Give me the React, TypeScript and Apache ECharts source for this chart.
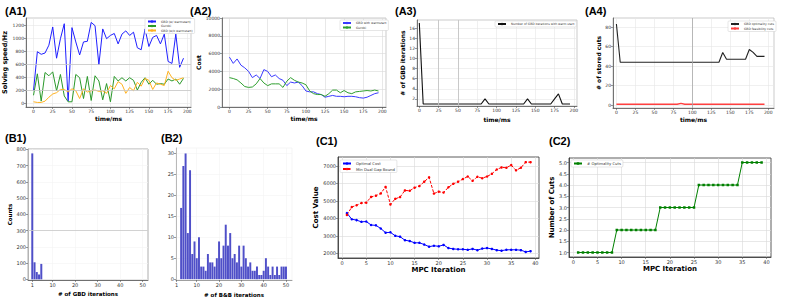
import React, { useEffect, useRef } from "react";
import * as echarts from "echarts";

// ---------- data ----------
const timeMs = [0, 5, 10, 15, 20, 25, 30, 35, 40, 45, 50, 55, 60, 65, 70, 75, 80, 85, 90, 95, 100, 105, 110, 115, 120, 125, 130, 135, 140, 145, 150, 155, 160, 165, 170, 175, 180, 185, 190, 195];
const timeTicks = [0, 25, 50, 75, 100, 125, 150, 175, 200];

// A1 solving speed (Hz)
const a1Warm = [200, 800, 760, 780, 900, 1180, 700, 1000, 1230, 40, 1170, 950, 750, 950, 960, 1250, 1200, 600, 1150, 1000, 1050, 1080, 920, 1070, 1120, 1050, 1100, 860, 830, 1150, 880, 1020, 1050, 920, 1070, 650, 620, 1070, 560, 700];
const a1Gurobi = [130, 460, 40, 480, 430, 490, 200, 450, 120, 30, 30, 450, 400, 80, 420, 50, 430, 350, 60, 310, 30, 420, 350, 400, 350, 400, 360, 210, 330, 400, 300, 360, 300, 310, 300, 380, 350, 380, 300, 390];
const a1Cold = [30, 20, 20, 40, 100, 150, 170, 220, 220, 180, 230, 200, 80, 230, 180, 200, 210, 190, 200, 160, 280, 230, 340, 300, 160, 250, 200, 330, 270, 390, 360, 220, 320, 300, 280, 500, 400, 360, 380, 400];
const a1Ticks = [0, 200, 400, 600, 800, 1000, 1200];

// A2 cost
const a2Warm = [5600, 4900, 5400, 4700, 4400, 4000, 3300, 3600, 3200, 4200, 4000, 3400, 3600, 3200, 3000, 2400, 2800, 2700, 2800, 2400, 1800, 1700, 1700, 1500, 1400, 1100, 1200, 1300, 1200, 1200, 1150, 1200, 1200, 1150, 1050, 1000, 1100, 1300, 1500, 1600];
const a2Gurobi = [3300, 3200, 3050, 2700, 2300, 2200, 2250, 2600, 3200, 2700, 2400, 2600, 2600, 2600, 2200, 2900, 3300, 3000, 2800, 2700, 2500, 1800, 1500, 1400, 1400, 1200, 1500, 1900, 1900, 1600, 1850, 1600, 1500, 1700, 1750, 1800, 1850, 1800, 1900, 1800];

// A3 GBD iterations
const a3Iter = [17, 1, 1, 1, 1, 1, 1, 1, 1, 1, 1, 1, 1, 1, 1, 1, 1, 2, 1, 1, 1, 1, 1, 1, 1, 1, 1, 1, 2, 1, 1, 1, 1, 1, 1, 2, 3, 1, 1, 1];
const a3Ticks = [2, 4, 6, 8, 10, 12, 14, 16];

// A4 stored cuts
const a4Opt = [83, 44, 44, 44, 44, 44, 44, 44, 44, 44, 44, 44, 44, 44, 44, 44, 44, 44, 44, 44, 44, 44, 44, 44, 44, 44, 44, 44, 54, 47, 47, 47, 47, 47, 47, 57, 54, 50, 50, 50];
const a4Feas = [1, 1, 1, 1, 1, 1, 1, 1, 1, 1, 1, 1, 1, 1, 1, 1, 1, 2, 1, 1, 1, 1, 1, 1, 1, 1, 1, 1, 1, 1, 1, 1, 1, 1, 1, 1, 1, 1, 1, 1];
const a4Ticks = [0, 20, 40, 60, 80];

// B1 histogram of GBD iterations
const gbdBins = [1, 2, 3, 4, 5];
const gbdCounts = [775, 105, 45, 30, 95];
const b1YTicks = [0, 100, 200, 300, 400, 500, 600, 700, 800];
const histXTicks = [1, 10, 20, 30, 40, 50];

// B2 histogram of B&B iterations
const bnbBins = [3, 4, 5, 6, 7, 8, 9, 10, 11, 12, 13, 14, 15, 16, 17, 18, 19, 20, 21, 22, 23, 24, 25, 26, 27, 28, 29, 30, 31, 32, 33, 34, 35, 36, 37, 38, 39, 40, 41, 42, 43, 44, 45, 46, 47, 48, 49, 50];
const bnbCounts = [17, 27, 30, 11, 26, 6, 9, 5, 10, 3, 3, 2, 6, 4, 4, 3, 5, 9, 5, 8, 13, 8, 11, 5, 6, 4, 8, 3, 8, 5, 3, 4, 2, 2, 3, 1, 1, 2, 5, 3, 1, 3, 1, 3, 1, 3, 3, 3];
const b2YTicks = [0, 5, 10, 15, 20, 25, 30];

// C1 / C2 MPC
const mpcIter = [1, 2, 3, 4, 5, 6, 7, 8, 9, 10, 11, 12, 13, 14, 15, 16, 17, 18, 19, 20, 21, 22, 23, 24, 25, 26, 27, 28, 29, 30, 31, 32, 33, 34, 35, 36, 37, 38, 39];
const optCost = [4300, 3950, 3900, 3800, 3820, 3620, 3600, 3420, 3180, 3200, 3000, 2950, 2750, 2700, 2600, 2600, 2500, 2380, 2430, 2400, 2480, 2300, 2250, 2230, 2230, 2200, 2250, 2180, 2270, 2300, 2250, 2180, 2150, 2200, 2200, 2200, 2180, 2080, 2120];
const dualBound = [4200, 4650, 4750, 4880, 4900, 5230, 5300, 5430, 5800, 4800, 5120, 5220, 5600, 5580, 5760, 5850, 6100, 6350, 5420, 5530, 5480, 5780, 5980, 6100, 6250, 6400, 6150, 6380, 6300, 6400, 6550, 6800, 6920, 6900, 7050, 6750, 6900, 7220, 7220];
const optCuts = [1, 1, 1, 1, 1, 1, 1, 1, 2, 2, 2, 2, 2, 2, 2, 2, 2, 3, 3, 3, 3, 3, 3, 3, 3, 4, 4, 4, 4, 4, 4, 4, 4, 4, 5, 5, 5, 5, 5];
const mpcTicks = [0, 5, 10, 15, 20, 25, 30, 35, 40];
const c1YTicks = [2000, 3000, 4000, 5000, 6000, 7000];
const c2YTicks = [1.0, 1.5, 2.0, 2.5, 3.0, 3.5, 4.0, 4.5, 5.0];

const panelLabels = ["(A1)", "(A2)", "(A3)", "(A4)", "(B1)", "(B2)", "(C1)", "(C2)"];

// ---------- helpers ----------
const FONT = '"DejaVu Sans", sans-serif';

type AxCfg = {
  grid: number;
  min: number;
  max: number;
  ticks?: number[];
  interval?: number;
  name?: string;
  nameGap?: number;
  nameSize?: number;
  labelSize?: number;
  lineColor?: string;
  splitColor?: string;
  fmt?: (v: number) => string;
};

function axis(c: AxCfg) {
  const a: any = {
    type: "value",
    gridIndex: c.grid,
    min: c.min,
    max: c.max,
    axisLine: { show: true, onZero: false, lineStyle: { color: c.lineColor || "#555", width: 0.8 } },
    axisTick: { show: true, length: 2, lineStyle: { color: "#555", width: 0.6 } },
    axisLabel: {
      fontSize: c.labelSize || 4.5,
      color: "#333",
      margin: 2,
      fontFamily: FONT,
      formatter: c.fmt || ((v: number) => String(v)),
    },
    splitLine: { show: true, lineStyle: { color: c.splitColor || "#e6e6e6", width: 0.6 } },
    name: c.name || "",
    nameLocation: "middle",
    nameGap: c.nameGap || 10,
    nameTextStyle: { fontWeight: "bold", fontSize: c.nameSize || 6, fontFamily: FONT, color: "#000" },
  };
  if (c.ticks) {
    a.axisTick.customValues = c.ticks;
    a.axisLabel.customValues = c.ticks;
  }
  if (c.interval) a.interval = c.interval;
  return a;
}

function pairs(xs: number[], ys: number[]) {
  return xs.map((x, i) => [x, ys[i]]);
}

function line(name: string, idx: number, xs: number[], ys: number[], color: string, width = 1, extra: any = {}) {
  return {
    type: "line",
    name,
    xAxisIndex: idx,
    yAxisIndex: idx,
    data: pairs(xs, ys),
    symbol: "none",
    lineStyle: { color, width },
    itemStyle: { color },
    ...extra,
  };
}

function vline(x: number, color: string) {
  return { silent: true, symbol: "none", label: { show: false }, lineStyle: { color, width: 0.8, type: "solid" }, data: [{ xAxis: x }] };
}

function legendBox(names: string[], left: number, top: number, fontSize: number, extra: any = {}) {
  return {
    data: names,
    left,
    top,
    orient: "vertical",
    itemWidth: 8,
    itemHeight: 3,
    itemGap: 1.5,
    padding: [1.5, 2, 1.5, 2],
    borderColor: "#ccc",
    borderWidth: 0.5,
    borderRadius: 1,
    backgroundColor: "#fff",
    textStyle: { fontSize, fontFamily: FONT, color: "#333", padding: [0, 0, 0, 0] },
    selectedMode: false,
    ...extra,
  };
}

export default function App() {
  const ref = useRef<HTMLDivElement>(null);

  useEffect(() => {
    const chart = echarts.init(ref.current!, null, { renderer: "svg" });

    const grids = [
      { left: 26, top: 18, width: 165, height: 89, show: true, borderColor: "#aaa", borderWidth: 0.6 }, // A1
      { left: 222, top: 18, width: 164, height: 89, show: true, borderColor: "#aaa", borderWidth: 0.6 }, // A2
      { left: 417, top: 20, width: 160, height: 86, show: true, borderColor: "#aaa", borderWidth: 0.6 }, // A3
      { left: 613, top: 18, width: 161, height: 90, show: true, borderColor: "#aaa", borderWidth: 0.6 }, // A4
      { left: 28, top: 149, width: 120, height: 131, show: true, borderColor: "#999", borderWidth: 0.8 }, // B1
      { left: 176, top: 148, width: 116, height: 132, show: true, borderColor: "#eee", borderWidth: 0.6 }, // B2
      { left: 338, top: 157, width: 201, height: 101, show: true, borderColor: "#333", borderWidth: 0.8 }, // C1
      { left: 569, top: 158, width: 202, height: 99, show: true, borderColor: "#333", borderWidth: 0.8 }, // C2
    ];

    const xAxes = [
      axis({ grid: 0, min: -9.75, max: 204.75, ticks: timeTicks, name: "time/ms", nameGap: 8 }),
      axis({ grid: 1, min: -9.75, max: 204.75, ticks: timeTicks, name: "time/ms", nameGap: 8, splitColor: "#d8d8d8" }),
      axis({ grid: 2, min: -3, max: 204, ticks: timeTicks, name: "time/ms", nameGap: 10 }),
      axis({ grid: 3, min: -4.5, max: 207.5, ticks: timeTicks, name: "time/ms", nameGap: 8.5 }),
      axis({ grid: 4, min: -0.9, max: 52.35, ticks: histXTicks, name: "# of GBD iterations", nameGap: 11, nameSize: 5.5, labelSize: 5, splitColor: "#f4f4f4" }),
      axis({ grid: 5, min: 0.7, max: 52.7, ticks: histXTicks, name: "# of B&B iterations", nameGap: 11.5, nameSize: 5.5, labelSize: 5, splitColor: "#f4f4f4", lineColor: "#888" }),
      axis({ grid: 6, min: -0.85, max: 40.75, ticks: mpcTicks, name: "MPC Iteration", nameGap: 8, nameSize: 7, labelSize: 5, splitColor: "#d9d9d9", lineColor: "#333" }),
      axis({ grid: 7, min: -0.9, max: 40.95, ticks: mpcTicks, name: "MPC Iteration", nameGap: 8.5, nameSize: 7, labelSize: 5, splitColor: "#d9d9d9", lineColor: "#333" }),
    ];

    const yAxes = [
      axis({ grid: 0, min: -50, max: 1318, ticks: a1Ticks, name: "Solving speed/Hz", nameGap: 14, nameSize: 6.5 }),
      axis({ grid: 1, min: 0, max: 10000, interval: 2000, name: "Cost", nameGap: 16, splitColor: "#d8d8d8" }),
      axis({ grid: 2, min: 0.6, max: 17.6, ticks: a3Ticks, name: "# of GBD iterations", nameGap: 11 }),
      axis({ grid: 3, min: -2.8, max: 89.2, ticks: a4Ticks, name: "# of stored cuts", nameGap: 11 }),
      axis({ grid: 4, min: -4, max: 802, ticks: b1YTicks, name: "Counts", nameGap: 14, nameSize: 5.5, labelSize: 5, splitColor: "#f4f4f4", lineColor: "#aaa" }),
      axis({ grid: 5, min: -0.2, max: 31.3, ticks: b2YTicks, labelSize: 5, splitColor: "#f4f4f4", lineColor: "#aaa" }),
      axis({ grid: 6, min: 1730, max: 7515, ticks: c1YTicks, name: "Cost Value", nameGap: 15, nameSize: 7, labelSize: 5, splitColor: "#d9d9d9", lineColor: "#333" }),
      axis({ grid: 7, min: 0.8, max: 5.2, ticks: c2YTicks, name: "Number of Cuts", nameGap: 11, nameSize: 7, labelSize: 5, splitColor: "#d9d9d9", lineColor: "#333", fmt: (v: number) => v.toFixed(1) }),
    ];

    const series: any[] = [
      // A1
      line("GBD (w/ warmstart)", 0, timeMs, a1Warm, "#1f1fff", 1, {
        markLine: { silent: true, symbol: "none", label: { show: false }, lineStyle: { color: "#c8c8c8", width: 0.8, type: "solid" }, data: [{ yAxis: 200 }, { yAxis: 600 }] },
      }),
      line("Gurobi", 0, timeMs, a1Gurobi, "#2a992a", 1),
      line("GBD (w/o warmstart)", 0, timeMs, a1Cold, "#ffb21f", 1),
      // A2
      line("GBD with warmstart", 1, timeMs, a2Warm, "#3a3aff", 1),
      line("Gurobi ", 1, timeMs, a2Gurobi, "#2f9f2f", 1),
      // A3
      line("Number of GBD iterations with warm start", 2, timeMs, a3Iter, "#111", 1.1, {
        markLine: { silent: true, symbol: "none", label: { show: false }, lineStyle: { color: "#c4c4c4", width: 0.9, type: "solid" }, data: [{ xAxis: 25 }, { xAxis: 50 }] },
      }),
      // A4
      line("GBD optimality cuts", 3, timeMs, a4Opt, "#222", 1.1, { markLine: vline(100, "#a8a8a8") }),
      line("GBD feasibility cuts", 3, timeMs, a4Feas, "#ff4040", 1.4),
      // B1
      {
        type: "bar",
        name: "B1",
        xAxisIndex: 4,
        yAxisIndex: 4,
        data: pairs(gbdBins, gbdCounts),
        barWidth: "88%",
        itemStyle: { color: "#4f4fc8" },
        markLine: { silent: true, symbol: "none", label: { show: false }, lineStyle: { color: "#c8c8c8", width: 0.8, type: "solid" }, data: [{ yAxis: 300 }] },
      },
      // B2
      {
        type: "bar",
        name: "B2",
        xAxisIndex: 5,
        yAxisIndex: 5,
        data: pairs(bnbBins, bnbCounts),
        barWidth: "88%",
        itemStyle: { color: "#4f4fc8" },
      },
      // C1
      line("Optimal Cost", 6, mpcIter, optCost, "#0000ff", 1, { symbol: "circle", symbolSize: 2.5, showSymbol: true }),
      line("Min Dual Gap Bound", 6, mpcIter, dualBound, "#ff0000", 1, {
        symbol: "circle",
        symbolSize: 2.5,
        showSymbol: true,
        lineStyle: { color: "#ff0000", width: 1, type: [3, 1.5] },
      }),
      // C2
      line("# Optimality Cuts", 7, mpcIter, optCuts, "#008000", 1, { symbol: "rect", symbolSize: 2.5, showSymbol: true }),
    ];

    const legends = [
      legendBox(["GBD (w/ warmstart)", "Gurobi", "GBD (w/o warmstart)"], 145, 18.5, 3),
      legendBox(["GBD with warmstart", "Gurobi "], 340, 20, 3),
      legendBox(["Number of GBD iterations with warm start"], 495, 21, 3),
      legendBox(["GBD optimality cuts", "GBD feasibility cuts"], 728, 21, 3),
      legendBox(["Optimal Cost", "Min Dual Gap Bound"], 340, 160, 3.8),
      legendBox(["# Optimality Cuts"], 571, 160, 3.8),
    ];

    const labelPos = [
      [5, 10.5],
      [190, 10.5],
      [395, 10.5],
      [585, 10.5],
      [5, 137.5],
      [161, 138],
      [316, 141],
      [549, 140.5],
    ];

    const graphic = panelLabels.map((t, i) => ({
      type: "text",
      x: labelPos[i][0],
      y: labelPos[i][1],
      style: { text: t, font: 'bold 11px "Liberation Sans", Arial, sans-serif', fill: "#000", verticalAlign: "middle", align: "left" },
    }));

    chart.setOption({
      animation: false,
      backgroundColor: "#fff",
      grid: grids,
      xAxis: xAxes,
      yAxis: yAxes,
      series,
      legend: legends,
      graphic,
    });

    return () => chart.dispose();
  }, []);

  return <div ref={ref} style={{ position: "fixed", left: 0, top: 0, width: 793, height: 301 }} />;
}
